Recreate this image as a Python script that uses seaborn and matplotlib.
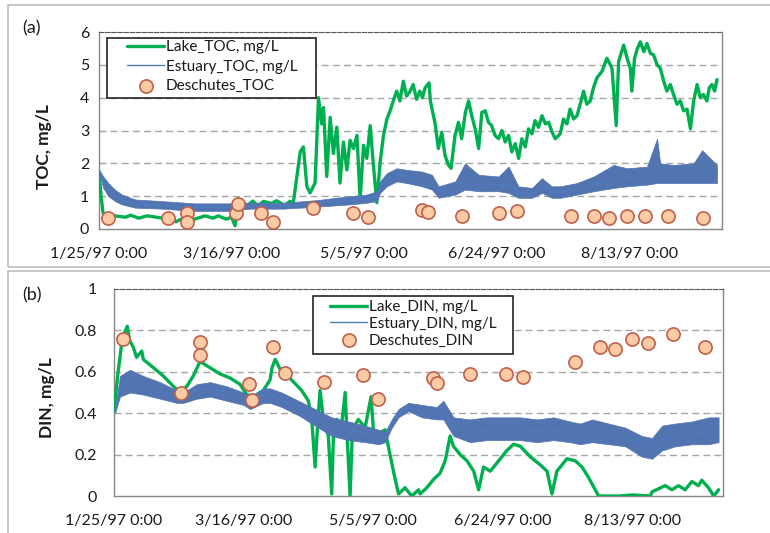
import numpy as np
import pandas as pd
import matplotlib
matplotlib.use("Agg")
import matplotlib.pyplot as plt
import matplotlib.patches as mpatches
import seaborn as sns

# ---------------- data (days since 1/25/97) ----------------
start = pd.Timestamp("1997-01-25")
tick_days = [0, 50, 100, 150, 200]
tick_labels = ["1/25/97 0:00", "3/16/97 0:00", "5/5/97 0:00", "6/24/97 0:00", "8/13/97 0:00"]

lake_toc_day = [0.0, 0.8, 1.5, 3, 6, 10, 12, 15, 18, 20, 24, 27, 29, 31, 33, 36, 40, 43, 45, 48, 50, 51.3,
                52.5, 54, 56, 58, 60, 62, 65, 67, 70, 72, 73.3, 75.9, 77.1, 78.4, 79.6, 81.5, 82.8, 84.0,
                84.7, 85.9, 87.2, 88.4, 89.7, 90.9, 92.2, 93.5, 94.7, 96.0, 97.3, 98.5, 99.8, 101.0, 102.3,
                103.5, 104.8, 106.0, 107.3, 108.6, 109.8, 111.0, 112.3, 113.5, 114.8, 116.0, 117.4, 118.5,
                119.8, 121, 122, 123, 124.5, 125, 126.8, 128, 129.3, 130.5, 131.8, 132.8, 134.3, 135.6,
                136.8, 138.2, 139.4, 140.6, 141.9, 143.2, 144.4, 145.7, 146.9, 148.1, 149.4, 150.7, 152.0,
                153.2, 154.5, 155.7, 157.0, 158.3, 159.5, 160.8, 162.0, 163.3, 164.5, 165.8, 167.1, 168.4,
                169.6, 170.9, 172.1, 174.0, 175.2, 176.5, 177.7, 179.0, 180.3, 181.5, 182.8, 184.0, 185.3,
                186.5, 187.8, 189.7, 191.6, 193.5, 195.1, 196, 197.9, 199.2, 200.4, 201.0, 202.0, 203.1,
                204.2, 205.5, 206.7, 208.0, 209.2, 210.5, 211.7, 213.0, 214.2, 215.5, 216.7, 218.0, 219.3,
                220.5, 221.8, 223.1, 224.3, 225.6, 226.8, 228.0, 229.3, 230.2, 231.2, 232.2, 233.1]
lake_toc = [1.75, 1.0, 0.5, 0.35, 0.4, 0.36, 0.42, 0.33, 0.4, 0.38, 0.33, 0.37, 0.22, 0.3, 0.2, 0.3, 0.4,
            0.33, 0.4, 0.3, 0.36, 0.1, 0.7, 0.82, 0.72, 0.85, 0.7, 0.84, 0.78, 0.86, 0.72, 0.84, 0.8, 2.35,
            2.5, 1.3, 1.1, 1.4, 4.0, 3.2, 3.7, 1.6, 3.4, 2.3, 3.1, 1.4, 2.65, 1.8, 2.7, 2.45, 2.85, 0.9,
            2.55, 2.15, 3.15, 1.95, 0.8, 2.0, 2.85, 3.35, 3.6, 3.9, 4.2, 3.9, 4.5, 4.05, 4.2, 4.4, 3.95,
            4.2, 4.0, 4.3, 4.45, 3.9, 3.2, 2.45, 2.95, 2.25, 1.95, 1.85, 2.85, 3.25, 2.75, 3.55, 3.9, 3.45,
            3.05, 2.45, 3.55, 3.6, 3.25, 3.15, 2.85, 2.75, 3.0, 2.65, 2.85, 2.35, 2.6, 2.15, 2.75, 2.5,
            3.05, 2.9, 3.3, 3.1, 3.45, 3.2, 3.25, 2.95, 2.75, 2.9, 3.35, 3.2, 3.65, 3.35, 3.45, 3.8, 4.2,
            3.8, 3.9, 4.3, 4.6, 4.8, 5.2, 4.9, 3.15, 5.1, 5.6, 5.2, 4.9, 4.2, 5.2, 5.5, 5.7, 5.4, 5.65,
            5.35, 5.3, 5.0, 4.9, 4.5, 4.2, 4.4, 4.1, 3.8, 3.9, 3.6, 3.65, 3.05, 3.9, 4.4, 4.0, 4.1, 3.9,
            4.3, 4.4, 4.2, 4.55]

est_toc_day = [0.0, 1.6, 3.5, 6.0, 8.6, 13.6, 23.7, 36.2, 48.8, 57.0, 69.6, 82.2, 94.7, 101.0, 104.8, 106.0,
               108.6, 112.3, 116.1, 121.8, 125.6, 128.1, 134.4, 138.1, 143.2, 150.7, 154.5, 158.2, 163.3,
               167.1, 170.8, 174.0, 180.3, 186.6, 194.1, 199.2, 206.7, 210.5, 211.7, 216.7, 224.3, 227.5, 233.1]
est_toc = [1.75, 1.45, 1.2, 1.0, 0.88, 0.77, 0.72, 0.66, 0.66, 0.70, 0.70, 0.78, 0.87, 0.92, 1.0, 1.3, 1.5,
           1.68, 1.6, 1.53, 1.43, 1.12, 1.22, 1.48, 1.38, 1.35, 1.35, 1.12, 1.07, 1.33, 1.12, 1.12, 1.22,
           1.38, 1.53, 1.58, 1.63, 1.68, 1.68, 1.68, 1.73, 1.7, 1.63]
est_toc_lo = [1.7, 1.25, 1.0, 0.85, 0.75, 0.65, 0.62, 0.55, 0.55, 0.62, 0.62, 0.68, 0.75, 0.8, 0.85, 1.1, 1.3,
              1.45, 1.4, 1.3, 1.2, 0.95, 1.05, 1.2, 1.15, 1.15, 1.1, 0.95, 0.95, 1.1, 0.95, 0.95, 1.05, 1.15,
              1.25, 1.3, 1.35, 1.4, 1.4, 1.4, 1.4, 1.4, 1.4]
est_toc_hi = [1.8, 1.6, 1.4, 1.2, 1.05, 0.9, 0.85, 0.78, 0.78, 0.8, 0.8, 0.88, 1.0, 1.05, 1.15, 1.45, 1.7,
              1.85, 1.8, 1.75, 1.65, 1.3, 1.45, 2.0, 1.65, 1.6, 1.9, 1.3, 1.25, 1.55, 1.3, 1.3, 1.4, 1.6,
              1.95, 1.85, 1.9, 2.75, 2.0, 1.95, 2.0, 2.4, 1.95]

des_toc_day = [3.4, 26, 33.2, 33.2, 51.7, 52.4, 61, 65.6, 80.7, 95.8, 101.5, 122, 124, 137, 151, 157.5,
               178, 186.6, 192.3, 199, 205.8, 214.5, 227.7]
des_toc = [0.34, 0.34, 0.49, 0.2, 0.49, 0.77, 0.49, 0.2, 0.64, 0.49, 0.37, 0.59, 0.52, 0.39, 0.49, 0.56,
           0.39, 0.39, 0.34, 0.39, 0.39, 0.39, 0.34]

lake_din_day = [0.0, 1.5, 2.8, 4.1, 5.1, 6.1, 7.4, 8.7, 10.7, 11.3, 15.2, 19.0, 22.9, 25.5, 28.1, 30.6, 33.2,
                37.0, 40.9, 44.8, 48.6, 51.2, 53.8, 57.6, 60.2, 61.0, 62.2, 64.2, 66.1, 68.6, 72.4, 75.0,
                76.3, 77.6, 78.6, 79.5, 80.8, 82.7, 84.0, 84.7, 86.0, 87.9, 89.2, 89.8, 91.1, 92.0, 94.3,
                96.9, 99.2, 100.1, 102.0, 104.6, 106.5, 108.5, 109.8, 112.3, 114.9, 117.5, 118.1, 120.7,
                123.3, 125.8, 127.8, 129.7, 131.0, 133.6, 136.2, 138.8, 140.7, 142.6, 145.2, 147.8, 151.6,
                154.2, 156.8, 160.6, 164.5, 167.1, 169.0, 170.9, 174.8, 178.0, 180.6, 183.1, 185.7, 187.0,
                195, 200, 207.0, 207.6, 210.1, 212.7, 215.3, 217.8, 220.4, 223.0, 225.5, 226.8, 229.4,
                231.4, 233.3]
lake_din = [0.41, 0.59, 0.72, 0.79, 0.82, 0.75, 0.72, 0.67, 0.70, 0.66, 0.62, 0.58, 0.53, 0.50, 0.53, 0.58,
            0.65, 0.62, 0.59, 0.57, 0.54, 0.49, 0.48, 0.51, 0.56, 0.62, 0.66, 0.61, 0.59, 0.56, 0.51, 0.46,
            0.37, 0.14, 0.35, 0.51, 0.37, 0.29, 0.01, 0.30, 0.37, 0.35, 0.50, 0.33, 0.0, 0.32, 0.37, 0.33,
            0.48, 0.32, 0.30, 0.32, 0.2, 0.08, 0.01, 0.04, 0.0, 0.03, 0.01, 0.04, 0.08, 0.11, 0.17, 0.29,
            0.24, 0.20, 0.17, 0.12, 0.03, 0.14, 0.12, 0.16, 0.22, 0.25, 0.24, 0.19, 0.15, 0.12, 0.01, 0.12,
            0.18, 0.17, 0.14, 0.09, 0.03, 0.0, 0.0, 0.005, 0.0, 0.02, 0.035, 0.05, 0.03, 0.05, 0.03, 0.07,
            0.05, 0.076, 0.04, 0.0, 0.03]

est_din_day = [0.4, 2.3, 6.2, 11.3, 17.8, 24.2, 26.8, 31.9, 37.1, 43.5, 50.0, 52.5, 57.7, 60.2, 64.7, 71.2,
               77.6, 84.0, 90.5, 96.9, 102.1, 104.6, 107.2, 109.8, 113.6, 118.8, 124.5, 127.1, 131.0, 137.4,
               143.8, 150.3, 156.7, 163.2, 169.6, 176.0, 179.9, 184.5, 190.9, 197.3, 203.7, 207.6, 211.5,
               216.6, 223.0, 229.5, 233.3]
est_din = [0.41, 0.53, 0.56, 0.54, 0.51, 0.48, 0.47, 0.51, 0.52, 0.50, 0.47, 0.45, 0.49, 0.49, 0.46, 0.43,
           0.38, 0.34, 0.32, 0.30, 0.285, 0.285, 0.35, 0.40, 0.43, 0.41, 0.40, 0.41, 0.33, 0.30, 0.32, 0.32,
           0.32, 0.31, 0.32, 0.30, 0.29, 0.30, 0.29, 0.28, 0.25, 0.24, 0.27, 0.29, 0.30, 0.31, 0.32]
est_din_lo = [0.40, 0.48, 0.50, 0.49, 0.47, 0.45, 0.45, 0.47, 0.48, 0.46, 0.44, 0.42, 0.45, 0.45, 0.43, 0.39,
              0.34, 0.29, 0.27, 0.26, 0.25, 0.26, 0.33, 0.38, 0.41, 0.38, 0.37, 0.37, 0.29, 0.26, 0.27, 0.27,
              0.27, 0.26, 0.27, 0.26, 0.25, 0.26, 0.25, 0.24, 0.19, 0.18, 0.22, 0.24, 0.25, 0.25, 0.26]
est_din_hi = [0.42, 0.58, 0.61, 0.58, 0.55, 0.51, 0.50, 0.54, 0.55, 0.53, 0.50, 0.48, 0.52, 0.52, 0.50, 0.46,
              0.42, 0.38, 0.36, 0.34, 0.32, 0.31, 0.37, 0.42, 0.45, 0.44, 0.43, 0.46, 0.38, 0.37, 0.38, 0.38,
              0.38, 0.37, 0.38, 0.36, 0.35, 0.37, 0.35, 0.33, 0.29, 0.28, 0.34, 0.35, 0.36, 0.38, 0.38]

des_din_day = [3.6, 25.9, 33, 33, 52.1, 53.4, 61.3, 66, 81, 96, 102, 123, 124.6, 137.2, 151.4, 158, 178,
               187.4, 193.2, 200, 206, 215.6, 228.2]
des_din = [0.758, 0.50, 0.745, 0.68, 0.54, 0.463, 0.72, 0.595, 0.55, 0.584, 0.468, 0.568, 0.544, 0.587,
           0.587, 0.576, 0.648, 0.721, 0.708, 0.758, 0.74, 0.782, 0.721]

# ---------------- styling ----------------
sns.set_style("white")
plt.rcParams["font.family"] = ["Lato", "DejaVu Sans"]

GREEN = "#00B050"
BLUE = "#3A62A0"
BLUE_BAND = "#5275B2"
BLUE_LEG = "#4F7BBE"
PEACH = "#FBCBA6"
PEACH_EDGE = "#C0604A"
GRID = "#A6A6A6"
AXC = "#868686"
TXT = "#1A1A1A"


def to_dates(days):
    return start + pd.to_timedelta(np.asarray(days, dtype=float), unit="D")


fig = plt.figure(figsize=(7.7, 5.33), dpi=100)
W, H = 770, 533


def ax_rect(l, t, r, b):
    return [l / W, 1 - b / H, (r - l) / W, (b - t) / H]


def fig_box(l, t, r, b, ec, lw):
    fig.patches.append(mpatches.Rectangle((l / W, 1 - b / H), (r - l) / W, (b - t) / H,
                                          transform=fig.transFigure, fill=False, edgecolor=ec, lw=lw,
                                          zorder=20))


ax1 = fig.add_axes(ax_rect(99, 32, 722, 229))
ax2 = fig.add_axes(ax_rect(114, 289, 723, 496))

# outer panel frames
fig_box(8, 5, 800, 267, "#BDBDBD", 1.2)
fig_box(8, 271, 800, 560, "#BDBDBD", 1.2)


def draw_panel(ax, lake_d, lake_v, lake_lw, est_d, est_v, est_lo, est_hi, des_d, des_v, names, ylim,
               yticks, ylabel, ylab_xy, ypad, leg_box, leg_anchor, leg_space):
    df_l = pd.DataFrame({"t": to_dates(lake_d), "v": lake_v})
    df_e = pd.DataFrame({"t": to_dates(est_d), "v": est_v})
    df_d = pd.DataFrame({"t": to_dates(des_d), "v": des_v})
    sns.lineplot(data=df_l, x="t", y="v", ax=ax, color=GREEN, lw=lake_lw, estimator=None, sort=False,
                 label=names[0], zorder=3)
    ax.fill_between(to_dates(est_d), est_lo, est_hi, color=BLUE_BAND, lw=0.5, zorder=4)
    sns.lineplot(data=df_e, x="t", y="v", ax=ax, color=BLUE, lw=3.0, estimator=None, sort=False,
                 label=names[1], zorder=4)
    sns.scatterplot(data=df_d, x="t", y="v", ax=ax, color=PEACH, edgecolor=PEACH_EDGE, linewidth=1.2,
                    s=90, label=names[2], zorder=5)

    ax.set_xlim(start, start + pd.Timedelta(days=235))
    ax.set_ylim(*ylim)
    ax.set_xticks(to_dates(tick_days))
    ax.set_xticklabels(tick_labels)
    ax.set_yticks(yticks)
    ax.set_yticklabels([f"{v:g}" for v in yticks])
    ax.set_xlabel("")
    ax.set_ylabel(ylabel, fontsize=12.5, fontweight="bold", color=TXT)
    ax.yaxis.set_label_coords(*ylab_xy)

    for yv in yticks[1:-1]:
        ax.axhline(yv, color=GRID, lw=1.0, ls=(0, (5, 3)), zorder=1)
    ax.spines["top"].set_color("#555555")
    ax.spines["top"].set_linestyle((0, (4, 1.5)))
    for s in ["left", "bottom", "right"]:
        ax.spines[s].set_color(AXC)
        ax.spines[s].set_linewidth(1.0)
    ax.tick_params(axis="x", direction="out", length=5, width=1, color=AXC, pad=8, labelsize=11.5,
                   labelcolor=TXT)
    ax.tick_params(axis="y", direction="out", length=4, width=1, color=AXC, pad=ypad, labelsize=11.5,
                   labelcolor=TXT)

    handles, labels = ax.get_legend_handles_labels()
    handles[0].set_linewidth(2.4)
    handles[1].set_color(BLUE_LEG)
    handles[1].set_linewidth(1.0)
    leg = ax.legend(handles, labels, loc="upper left",
                    bbox_to_anchor=(leg_anchor[0] / W, 1 - leg_anchor[1] / H),
                    bbox_transform=fig.transFigure, borderaxespad=0, frameon=False,
                    fontsize=11, handlelength=2.45, handletextpad=0.1, labelspacing=leg_space, borderpad=0)
    for t in leg.get_texts():
        t.set_color(TXT)
    leg.set_zorder(10)
    l, t, r, b = leg_box
    ax.add_patch(mpatches.Rectangle((l / W, 1 - b / H), (r - l) / W, (b - t) / H, transform=fig.transFigure,
                                    facecolor="white", edgecolor="#222222", lw=1.2, zorder=9))


draw_panel(ax1, lake_toc_day, lake_toc, 3.4, est_toc_day, est_toc, est_toc_lo, est_toc_hi, des_toc_day,
           des_toc, ["Lake_TOC, mg/L", "Estuary_TOC, mg/L", "Deschutes_TOC"], (0, 6), [0, 1, 2, 3, 4, 5, 6],
           "TOC, mg/L", (-0.075, 0.42), 3, (107, 38, 316, 98), (127, 40), 0.36)
draw_panel(ax2, lake_din_day, lake_din, 2.4, est_din_day, est_din, est_din_lo, est_din_hi, des_din_day,
           des_din, ["Lake_DIN, mg/L", "Estuary_DIN, mg/L", "Deschutes_DIN"], (0, 1),
           [0, 0.2, 0.4, 0.6, 0.8, 1], "DIN, mg/L", (-0.097, 0.473), 8, (313, 296, 513, 354), (330, 300),
           0.18)

fig.text(22 / W, 1 - 28 / H, "(a)", fontsize=13, va="center", ha="left", color=TXT)
fig.text(22 / W, 1 - 295 / H, "(b)", fontsize=13, va="center", ha="left", color=TXT)

fig.savefig("out.png", dpi=100)
